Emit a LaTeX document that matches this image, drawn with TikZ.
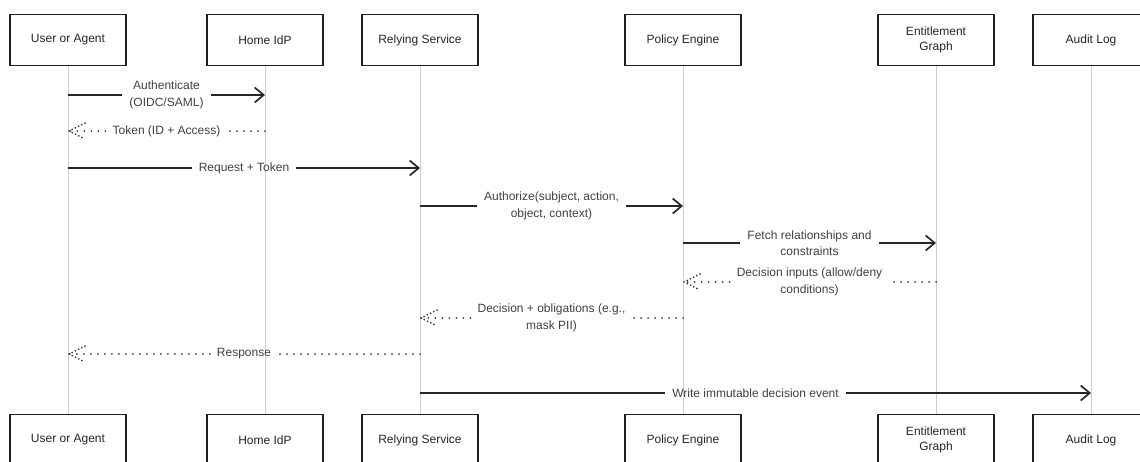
\documentclass[tikz,border=0pt]{standalone}
\usepackage{fontspec}
\setmainfont{Liberation Sans}
\usetikzlibrary{arrows.meta,positioning,calc}

\definecolor{boxline}{RGB}{30,30,30}
\definecolor{msgtext}{RGB}{64,64,64}
\definecolor{lifegray}{RGB}{205,205,205}

\tikzset{
  actor/.style={draw=boxline, line width=1.3pt, fill=white, minimum width=116pt,
    minimum height=51pt, align=center, text=black!85,
    font=\fontsize{12}{15}\selectfont},
  msglabel/.style={align=center, inner xsep=7pt, inner ysep=1pt, text=msgtext,
    font=\fontsize{12}{16.5}\selectfont},
  lifeline/.style={draw=lifegray, line width=0.9pt},
  callline/.style={draw=black!85, line width=1.7pt},
  callarrow/.style={callline, -{Straight Barb[length=9pt,width=15pt,line width=1.7pt]}},
  retline/.style={draw=black!75, line width=2pt, line cap=round, dash pattern=on 0pt off 7pt},
  rethead/.pic={\draw[retline, dash pattern=on 0pt off 3.6pt] (17,-8) -- (1,0) -- (17,8);}
}

\begin{document}
\begin{tikzpicture}[x=1pt, y=-1pt]
  \useasboundingbox (0,0) rectangle (1140,461);
  \clip (0,0) rectangle (1140,461);

  % participants, top and bottom
  \node[actor] (ua)  at (68,40)   {User or Agent};
  \node[actor] (idp) at (265,40)  {Home IdP};
  \node[actor] (rs)  at (420,40)  {Relying Service};
  \node[actor] (pe)  at (683,40)  {Policy Engine};
  \node[actor] (eg)  at (936,40)  {Entitlement\\Graph};
  \node[actor] (al)  at (1091,40) {Audit Log};

  \node[actor] (ua2)  at (68,440)   {User or Agent};
  \node[actor] (idp2) at (265,440)  {Home IdP};
  \node[actor] (rs2)  at (420,440)  {Relying Service};
  \node[actor] (pe2)  at (683,440)  {Policy Engine};
  \node[actor] (eg2)  at (936,440)  {Entitlement\\Graph};
  \node[actor] (al2)  at (1091,440) {Audit Log};

  % lifelines
  \foreach \p in {ua,idp,rs,pe,eg,al}
    \draw[lifeline] (\p.south) -- (\p2.north);

  % message end points
  \coordinate (m1s) at (ua |- 0,95);   \coordinate (m1e) at (idp |- 0,95);
  \coordinate (m2s) at (idp |- 0,131); \coordinate (m2e) at (ua |- 0,131);
  \coordinate (m3s) at (ua |- 0,168);  \coordinate (m3e) at (rs |- 0,168);
  \coordinate (m4s) at (rs |- 0,206);  \coordinate (m4e) at (pe |- 0,206);
  \coordinate (m5s) at (pe |- 0,243);  \coordinate (m5e) at (eg |- 0,243);
  \coordinate (m6s) at (eg |- 0,282);  \coordinate (m6e) at (pe |- 0,282);
  \coordinate (m7s) at (pe |- 0,318);  \coordinate (m7e) at (rs |- 0,318);
  \coordinate (m8s) at (rs |- 0,354);  \coordinate (m8e) at (ua |- 0,354);
  \coordinate (m9s) at (rs |- 0,393);  \coordinate (m9e) at (al |- 0,393);

  % calls
  \node[msglabel] (l1) at ($(m1s)!0.5!(m1e)$) {Authenticate\\(OIDC/SAML)};
  \draw[callline] (m1s) -- (l1.west);
  \draw[callarrow] (l1.east) -- (m1e);

  \node[msglabel] (l3) at ($(m3s)!0.5!(m3e)$) {Request + Token};
  \draw[callline, line width=1.3pt] (m3s) -- (l3.west);
  \draw[callarrow] (l3.east) -- (m3e);

  \node[msglabel] (l4) at ($(m4s)!0.5!(m4e)$) {Authorize(subject, action,\\object, context)};
  \draw[callline] (m4s) -- (l4.west);
  \draw[callarrow] (l4.east) -- (m4e);

  \node[msglabel] (l5) at ($(m5s)!0.5!(m5e)$) {Fetch relationships and\\constraints};
  \draw[callline] (m5s) -- (l5.west);
  \draw[callarrow] (l5.east) -- (m5e);

  \node[msglabel] (l9) at ($(m9s)!0.5!(m9e)$) {Write immutable decision event};
  \draw[callline] (m9s) -- (l9.west);
  \draw[callarrow] (l9.east) -- (m9e);

  % returns
  \node[msglabel] (l2) at ($(m2s)!0.5!(m2e)$) {Token (ID + Access)};
  \draw[retline] (m2s) -- (l2.east);
  \draw[retline] (l2.west) -- (m2e);
  \pic at (m2e) {rethead};

  \node[msglabel] (l6) at ($(m6s)!0.5!(m6e)$) {Decision inputs (allow/deny\\conditions)};
  \draw[retline] (m6s) -- (l6.east);
  \draw[retline] (l6.west) -- (m6e);
  \pic at (m6e) {rethead};

  \node[msglabel] (l7) at ($(m7s)!0.5!(m7e)$) {Decision + obligations (e.g.,\\mask PII)};
  \draw[retline] (m7s) -- (l7.east);
  \draw[retline] (l7.west) -- (m7e);
  \pic at (m7e) {rethead};

  \node[msglabel] (l8) at ($(m8s)!0.5!(m8e)$) {Response};
  \draw[retline] (m8s) -- (l8.east);
  \draw[retline] (l8.west) -- (m8e);
  \pic at (m8e) {rethead};
\end{tikzpicture}
\end{document}
